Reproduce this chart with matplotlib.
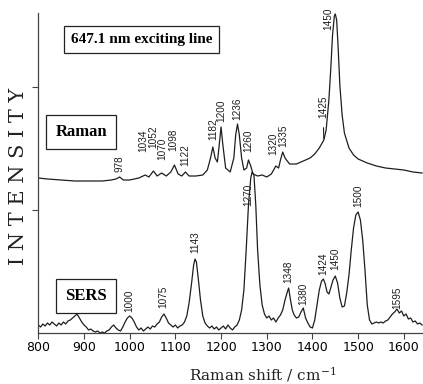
import matplotlib

matplotlib.use("Agg")

import matplotlib.pyplot as plt
import numpy as np

# Raman spectrum (647.1 nm excitation), intensity in arbitrary units
RAMAN_WN = [
    800, 820, 850, 880, 910, 940, 960, 970, 978, 986, 1000, 1020, 1034, 1042,
    1052, 1060, 1070, 1080, 1090, 1098, 1106, 1114, 1122, 1130, 1145, 1160,
    1170, 1177, 1182, 1187, 1192, 1196, 1200, 1204, 1210, 1220, 1228, 1232,
    1236, 1240, 1245, 1250, 1256, 1260, 1265, 1270, 1280, 1290, 1300, 1310,
    1320, 1326, 1330, 1335, 1340, 1350, 1365, 1380, 1395, 1405, 1415, 1420,
    1425, 1430, 1436, 1440, 1444, 1448, 1450, 1453, 1456, 1460, 1465, 1470,
    1480, 1490, 1500, 1520, 1540, 1560, 1580, 1600, 1620, 1640,
]
RAMAN_INT = [
    155, 154, 153, 152, 152, 152, 153, 154, 156, 153, 153, 155, 158, 156,
    162, 157, 160, 157, 161, 168, 159, 157, 161, 157, 157, 158,
    163, 175, 186, 175, 171, 188, 206, 188, 165, 161, 175, 198,
    209, 198, 175, 163, 165, 173, 167, 159, 157, 158, 156, 159,
    167, 165, 173, 181, 175, 169, 169, 172, 175, 179, 185, 189,
    193, 203, 233, 263, 298, 317, 319, 313, 288, 248, 218, 200,
    185, 178, 174, 170, 167, 165, 164, 163, 161, 160,
]

# SERS spectrum
SERS_WN = [
    800, 805, 810, 815, 820, 825, 830, 835, 840, 845, 850, 855, 860, 865, 870,
    875, 880, 885, 890, 895, 900, 905, 910, 915, 920, 925, 930, 935, 940, 945,
    950, 955, 960, 965, 970, 975, 980, 985, 990, 995, 1000, 1005, 1010, 1015,
    1020, 1025, 1030, 1035, 1040, 1045, 1050, 1055, 1060, 1065, 1070, 1075,
    1080, 1085, 1090, 1095, 1100, 1105, 1110, 1115, 1120, 1125, 1130, 1135,
    1140, 1143, 1146, 1150, 1155, 1160, 1165, 1170, 1175, 1180, 1185, 1190,
    1195, 1200, 1205, 1210, 1215, 1220, 1225, 1230, 1235, 1240, 1245, 1250,
    1255, 1260, 1265, 1268, 1272, 1276, 1280, 1285, 1290, 1295, 1300, 1305,
    1310, 1315, 1320, 1325, 1330, 1335, 1340, 1345, 1348, 1352, 1356, 1360,
    1365, 1370, 1375, 1380, 1385, 1390, 1395, 1400, 1405, 1410, 1415, 1420,
    1424, 1428, 1432, 1436, 1440, 1445, 1450, 1455, 1460, 1465, 1470, 1475,
    1480, 1485, 1490, 1495, 1500, 1505, 1510, 1515, 1520, 1525, 1530, 1535,
    1540, 1545, 1550, 1555, 1560, 1565, 1570, 1575, 1580, 1585, 1590, 1595,
    1600, 1605, 1610, 1615, 1620, 1625, 1630, 1635, 1640,
]
SERS_INT = [
    8, 6, 9, 7, 10, 8, 11, 9, 7, 10, 8, 11, 9, 12, 13,
    15, 17, 19, 15, 11, 8, 6, 3, 4, 2, 1, 2, 0, 1, 0,
    2, 3, 6, 8, 5, 3, 2, 6, 11, 15, 17, 15, 11, 6,
    3, 5, 2, 4, 6, 4, 7, 6, 9, 11, 16, 19,
    15, 10, 8, 6, 8, 5, 7, 8, 11, 17, 30, 48,
    68, 74, 71, 55, 33, 17, 10, 7, 5, 7, 4, 6,
    3, 5, 7, 4, 8, 5, 3, 6, 8, 13, 23, 43,
    83, 128, 155, 161, 158, 128, 83, 48, 28, 19, 15, 17,
    13, 15, 11, 15, 18, 23, 33, 41, 45, 33, 23, 18,
    15, 16, 21, 25, 15, 10, 6, 5, 13, 28, 43, 52,
    54, 49, 41, 39, 45, 53, 57, 50, 35, 26, 27, 40,
    58, 83, 105, 118, 121, 113, 93, 63, 28, 13, 9, 10,
    11, 10, 11, 10, 12, 13, 16, 19, 21, 24, 20, 22,
    17, 19, 14, 15, 11, 12, 9, 10, 8,
]

RAMAN_LABELS = ["978", "1034", "1052", "1070", "1098", "1122", "1182", "1200",
                "1236", "1260", "1320", "1335", "1425", "1450"]
SERS_LABELS = ["1000", "1075", "1143", "1270", "1348", "1380", "1424", "1450",
               "1500", "1595"]

# label placement: (dx, dy) in pixels from the curve at the label wavenumber
RAMAN_OFFSETS = {
    "978": (0, 5), "1034": (-2, 23), "1052": (-0.5, 23), "1070": (0.5, 13),
    "1098": (-1, 14), "1122": (0, 6), "1182": (0, 7), "1200": (0, 5),
    "1236": (0, 4), "1260": (0, 8), "1320": (-2.5, 11), "1335": (1, 5),
    "1425": (-1, 22), "1450": (-7, -16),
}
SERS_OFFSETS = {
    "1000": (0, 4), "1075": (-1, 6), "1143": (0, 6), "1270": (-5, -33),
    "1348": (0, 5), "1380": (0, 3), "1424": (0, 4), "1450": (0, 6),
    "1500": (0, 5), "1595": (-4, 2),
}

LINE_COLOR = "#1e1e1e"
LABEL_FONT = "Liberation Sans"


def label_peaks(ax, wn, inten, labels, offsets, line_to=()):
    for lab in labels:
        x = float(lab)
        y = np.interp(x, wn, inten)
        dx, dy = offsets[lab]
        kw = {}
        if lab in line_to:
            kw["arrowprops"] = dict(arrowstyle="-", lw=0.8, color=LINE_COLOR,
                                    shrinkA=5, shrinkB=1)
        ax.annotate(lab, xy=(x, y), xytext=(dx * 0.72, dy * 0.72),
                    textcoords="offset points", rotation=90, ha="center",
                    va="bottom", fontsize=7.2, family=LABEL_FONT,
                    color=LINE_COLOR, **kw)


def main():
    plt.rcParams["mathtext.fontset"] = "dejavuserif"
    fig = plt.figure(figsize=(4.23, 3.84), dpi=100)
    ax = fig.add_axes([38.3 / 423, 51 / 384, (423 - 38.3) / 423, 320 / 384])

    ax.plot(RAMAN_WN, RAMAN_INT, color=LINE_COLOR, lw=0.9)
    ax.plot(SERS_WN, SERS_INT, color=LINE_COLOR, lw=0.9)

    ax.set_xlim(800, 1642)
    ax.set_ylim(0, 320)
    ax.set_xticks(range(800, 1700, 100))
    ax.set_yticks([123, 246])
    ax.set_yticklabels([])
    for side in ("top", "right"):
        ax.spines[side].set_visible(False)
    for side in ("left", "bottom"):
        ax.spines[side].set_color("#444444")
        ax.spines[side].set_linewidth(0.9)
    ax.tick_params(axis="both", direction="out", length=4, width=0.8,
                   color="#444444", labelsize=9, pad=2)

    label_peaks(ax, RAMAN_WN, RAMAN_INT, RAMAN_LABELS, RAMAN_OFFSETS,
                line_to=("1425",))
    label_peaks(ax, SERS_WN, SERS_INT, SERS_LABELS, SERS_OFFSETS)

    box = dict(boxstyle="square,pad=0.45", fc="white", ec="#222222", lw=0.9)
    ax.text(0.268, 0.917, "647.1 nm exciting line", transform=ax.transAxes,
            ha="center", va="center", fontsize=11, fontweight="bold",
            family="Liberation Serif", bbox=box)
    ax.text(0.112, 0.628, "Raman", transform=ax.transAxes, ha="center",
            va="center", fontsize=12, fontweight="bold",
            family="Liberation Serif",
            bbox=dict(box, boxstyle="square,pad=0.55"))
    ax.text(0.125, 0.116, "SERS", transform=ax.transAxes, ha="center",
            va="center", fontsize=12, fontweight="bold",
            family="Liberation Serif",
            bbox=dict(box, boxstyle="square,pad=0.55"))

    fig.text(18 / 423, 1 - 176 / 384, "I N T E N S I T Y", rotation=90,
             ha="center", va="center", fontsize=15, family="DejaVu Serif",
             color="#222222")
    fig.text(263 / 423, 1 - 375 / 384, "Raman shift / cm$^{-1}$",
             ha="center", va="center", fontsize=11, family="DejaVu Serif",
             color="#222222")

    fig.savefig("out.png", dpi=100)
    plt.close(fig)


if __name__ == "__main__":
    main()
